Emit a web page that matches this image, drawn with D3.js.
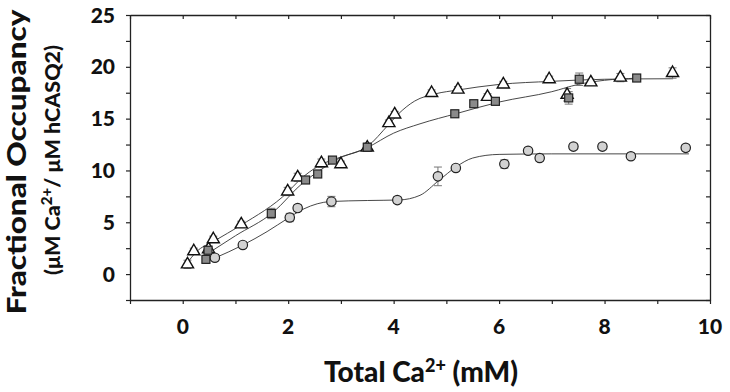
<!DOCTYPE html>
<html>
<head>
<meta charset="utf-8">
<script src="https://cdn.jsdelivr.net/npm/d3@7"></script>
<style>
  body { margin: 0; background: #fff; }
  svg text { font-family: Lato, "Open Sans", sans-serif; font-weight: 900; }
</style>
</head>
<body>
<div id="chart"></div>
<script>
// open triangles
const triX = [0.09, 0.21, 0.49, 0.58, 1.11, 1.99, 2.18, 2.63, 3.0, 3.5, 3.91, 4.02, 4.72, 5.22, 5.78, 6.08, 6.95, 7.29, 7.74, 8.3, 9.29];
const triY = [0.94, 2.2, 2.4, 3.36, 4.8, 7.97, 9.33, 10.7, 10.6, 12.2, 14.57, 15.4, 17.47, 17.8, 17.1, 18.3, 18.8, 17.3, 18.5, 18.96, 19.4];
const triErr = [0.4, 0.3, 0.3, 0.3, 0.3, 0.4, 0.4, 0.4, 0.3, 0.3, 0.3, 0.3, 0.3, 0.3, 0.3, 0.3, 0.3, 0.6, 0.3, 0.4, 0.5];
// grey squares
const sqX = [0.44, 0.48, 1.68, 2.33, 2.56, 2.84, 3.5, 5.16, 5.52, 5.93, 7.32, 7.52, 8.61];
const sqY = [1.42, 2.3, 5.85, 9.08, 9.66, 11.0, 12.24, 15.47, 16.44, 16.67, 17.0, 18.8, 18.92];
const sqErr = [0.3, 0.3, 0.5, 0.3, 0.3, 0.3, 0.4, 0.3, 0.3, 0.3, 0.6, 0.6, 0.3];
// light circles
const ciX = [0.61, 1.14, 2.03, 2.18, 2.82, 4.07, 4.84, 5.18, 6.1, 6.55, 6.77, 7.41, 7.96, 8.5, 9.54];
const ciY = [1.58, 2.81, 5.46, 6.37, 7.0, 7.14, 9.43, 10.24, 10.62, 11.9, 11.2, 12.3, 12.3, 11.37, 12.18];
const ciErr = [0.3, 0.3, 0.4, 0.3, 0.5, 0.3, 0.9, 0.3, 0.4, 0.3, 0.3, 0.3, 0.3, 0.3, 0.3];

// fitted curves
const triFitX = [0.09, 0.25, 0.6, 1.1, 2.0, 2.2, 2.6, 3.0, 3.5, 3.9, 4.1, 4.4, 4.8, 5.2, 6.0, 7.0, 8.0, 9.3];
const triFitY = [1.1, 2.1, 3.2, 4.7, 7.95, 9.0, 10.5, 11.3, 12.3, 14.4, 15.5, 16.7, 17.4, 17.75, 18.3, 18.6, 18.8, 18.85];
const sqFitX = [0.45, 1.0, 1.7, 2.3, 2.6, 2.9, 3.5, 4.0, 4.5, 5.2, 6.0, 7.0, 7.5, 8.0, 8.6];
const sqFitY = [1.9, 3.7, 5.9, 8.9, 10.0, 11.0, 12.2, 13.6, 14.5, 15.5, 16.6, 17.6, 18.3, 18.7, 18.9];
const ciFitX = [0.5, 0.61, 1.14, 1.6, 2.0, 2.3, 2.8, 3.5, 4.1, 4.5, 4.85, 5.2, 5.5, 6.0, 7.0, 9.6];
const ciFitY = [1.3, 1.55, 2.8, 4.1, 5.4, 6.3, 7.0, 7.1, 7.15, 7.6, 9.0, 10.4, 11.2, 11.55, 11.6, 11.6];

const xTicks = [0, 2, 4, 6, 8, 10];
const yTicks = [0, 5, 10, 15, 20, 25];

const width = 730, height = 392;
const margin = {top: 15, right: 20, bottom: 92, left: 130};

const svg = d3.select("#chart").append("svg")
  .attr("width", width)
  .attr("height", height);

const x = d3.scaleLinear().domain([-1, 10]).range([margin.left, width - margin.right]);
const y = d3.scaleLinear().domain([-2.5, 25]).range([height - margin.bottom, margin.top]);

const minorX = d3.range(-1, 11, 1);
const minorY = d3.range(-2.5, 25.1, 2.5);

// frame axes
svg.append("g")
  .attr("transform", `translate(0,${y(-2.5)})`)
  .call(d3.axisBottom(x).tickValues(minorX).tickFormat("").tickSizeInner(4).tickSizeOuter(0));
svg.append("g")
  .attr("transform", `translate(${x(-1)},0)`)
  .call(d3.axisLeft(y).tickValues(minorY).tickFormat("").tickSizeInner(4).tickSizeOuter(0));
svg.append("g")
  .attr("transform", `translate(0,${y(25)})`)
  .call(d3.axisTop(x).tickValues(minorX).tickFormat("").tickSizeInner(-4).tickSizeOuter(0));
svg.append("g")
  .attr("transform", `translate(${x(10)},0)`)
  .call(d3.axisRight(y).tickValues(minorY).tickFormat("").tickSizeInner(-4).tickSizeOuter(0));

svg.selectAll(".domain").attr("stroke", "#222").attr("stroke-width", 1.3);
svg.selectAll(".tick line").attr("stroke", "#222").attr("stroke-width", 1.2);

// tick labels
svg.append("g").selectAll("text")
  .data(xTicks)
  .join("text")
  .attr("x", d => x(d))
  .attr("y", 334)
  .attr("text-anchor", "middle")
  .attr("font-size", 21)
  .attr("fill", "#111")
  .text(d => d);

svg.append("g").selectAll("text")
  .data(yTicks)
  .join("text")
  .attr("x", 115)
  .attr("y", d => y(d) + 7.5)
  .attr("text-anchor", "end")
  .attr("font-size", 21)
  .attr("fill", "#111")
  .text(d => d);

// titles
const xt = svg.append("text")
  .attr("x", 421)
  .attr("y", 382)
  .attr("text-anchor", "middle")
  .attr("font-size", 28)
  .attr("fill", "#111");
xt.append("tspan").text("Total Ca");
xt.append("tspan").attr("font-size", 18).attr("dy", -10).text("2+");
xt.append("tspan").attr("dy", 10).text(" (mM)");

svg.append("text")
  .attr("transform", "translate(26,162) rotate(-90)")
  .attr("text-anchor", "middle")
  .attr("font-size", 27)
  .attr("fill", "#111")
  .attr("textLength", 305)
  .attr("lengthAdjust", "spacingAndGlyphs")
  .text("Fractional Occupancy");

const yt2 = svg.append("text")
  .attr("transform", "translate(60,160) rotate(-90)")
  .attr("text-anchor", "middle")
  .attr("font-size", 21.5)
  .attr("fill", "#111");
yt2.append("tspan").text("(μM Ca");
yt2.append("tspan").attr("font-size", 15).attr("dy", -8).text("2+");
yt2.append("tspan").attr("dy", 8).text("/ μM hCASQ2)");

// fitted lines
const line = d3.line().x(d => x(d[0])).y(d => y(d[1])).curve(d3.curveMonotoneX);
const fits = [[triFitX, triFitY], [sqFitX, sqFitY], [ciFitX, ciFitY]];
fits.forEach(([fx, fy]) => {
  svg.append("path")
    .datum(fx.map((v, i) => [v, fy[i]]))
    .attr("fill", "none")
    .attr("stroke", "#333")
    .attr("stroke-width", 0.9)
    .attr("d", line);
});

function errorBars(xs, ys, es) {
  const data = xs.map((v, i) => ({x: v, y: ys[i], e: es[i]}));
  const g = svg.append("g").attr("stroke", "#777").attr("stroke-width", 1);
  g.selectAll("line.v").data(data).join("line")
    .attr("x1", d => x(d.x)).attr("x2", d => x(d.x))
    .attr("y1", d => y(d.y - d.e)).attr("y2", d => y(d.y + d.e));
  g.selectAll("line.t").data(data).join("line")
    .attr("x1", d => x(d.x) - 4).attr("x2", d => x(d.x) + 4)
    .attr("y1", d => y(d.y + d.e)).attr("y2", d => y(d.y + d.e));
  g.selectAll("line.b").data(data).join("line")
    .attr("x1", d => x(d.x) - 4).attr("x2", d => x(d.x) + 4)
    .attr("y1", d => y(d.y - d.e)).attr("y2", d => y(d.y - d.e));
  return data;
}

const triData = errorBars(triX, triY, triErr);
const sqData = errorBars(sqX, sqY, sqErr);
const ciData = errorBars(ciX, ciY, ciErr);

svg.append("g").selectAll("path").data(triData).join("path")
  .attr("transform", d => `translate(${x(d.x)},${y(d.y)})`)
  .attr("d", d3.symbol(d3.symbolTriangle, 64))
  .attr("fill", "#fff")
  .attr("stroke", "#111")
  .attr("stroke-width", 1.4);

svg.append("g").selectAll("rect").data(sqData).join("rect")
  .attr("x", d => x(d.x) - 4)
  .attr("y", d => y(d.y) - 4)
  .attr("width", 8)
  .attr("height", 8)
  .attr("fill", "#8a8a8a")
  .attr("stroke", "#222")
  .attr("stroke-width", 1.2);

svg.append("g").selectAll("circle").data(ciData).join("circle")
  .attr("cx", d => x(d.x))
  .attr("cy", d => y(d.y))
  .attr("r", 4.7)
  .attr("fill", "#d2d2d2")
  .attr("stroke", "#222")
  .attr("stroke-width", 1.2);
</script>
</body>
</html>
